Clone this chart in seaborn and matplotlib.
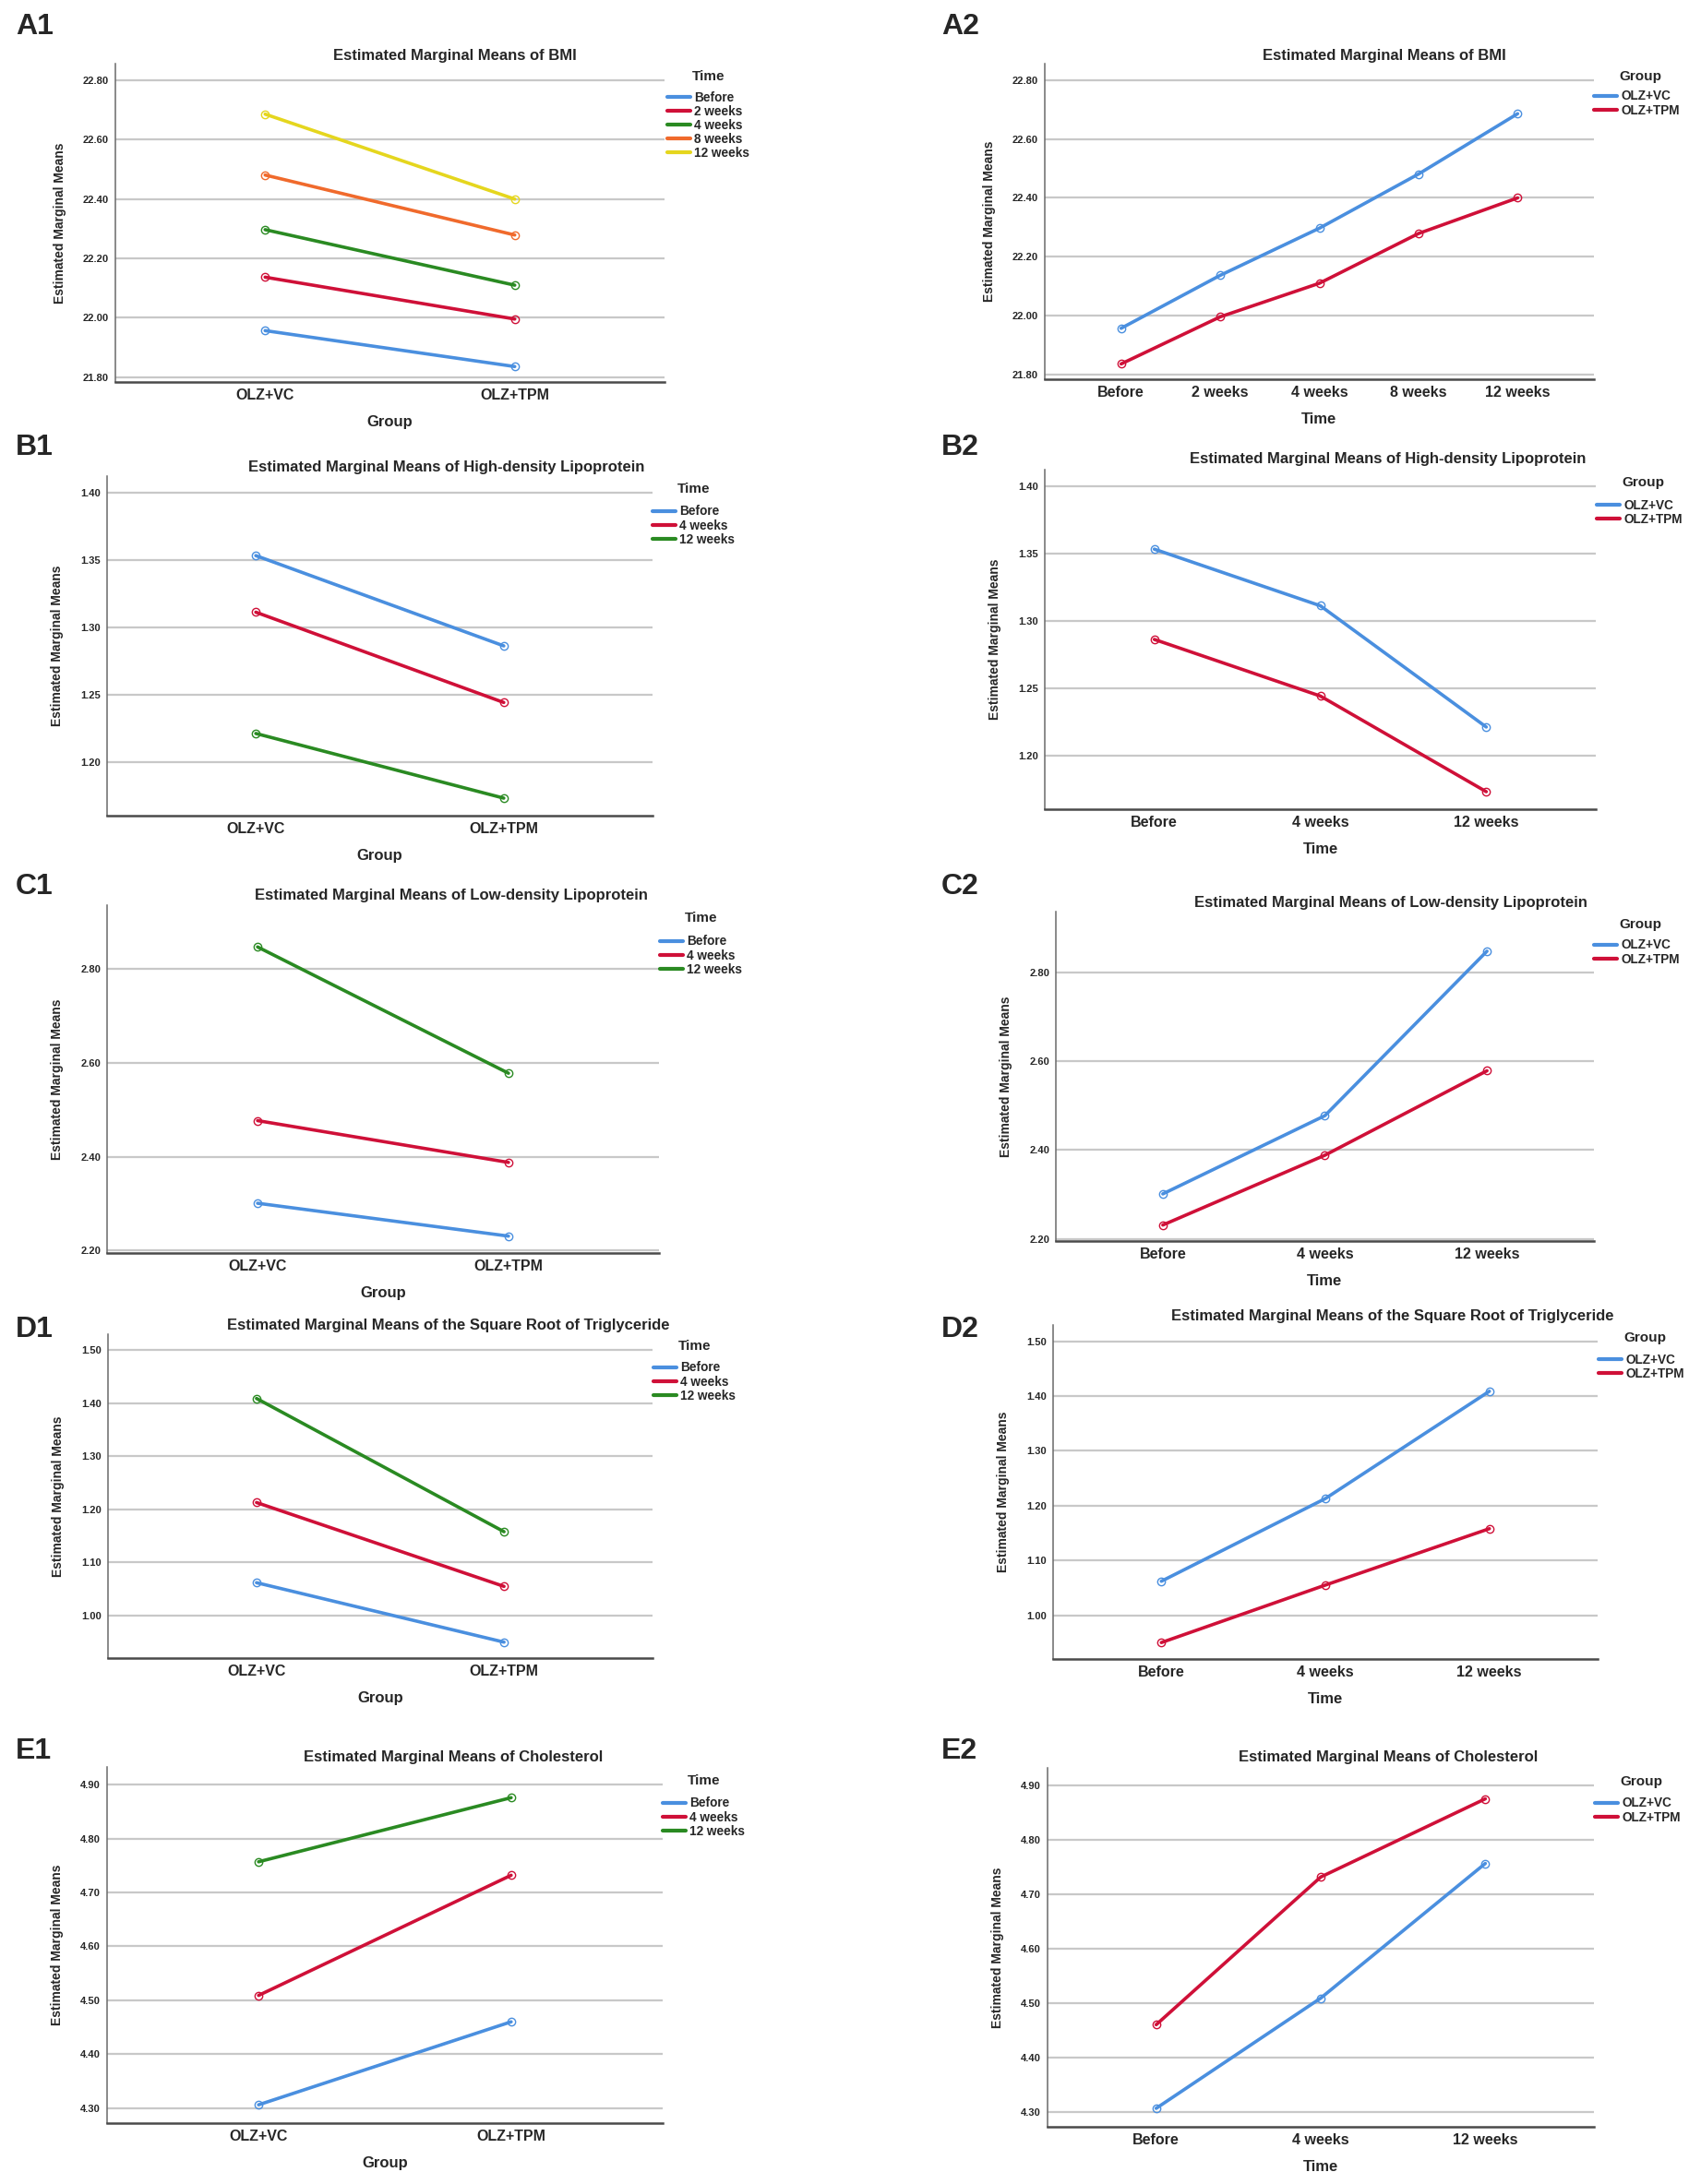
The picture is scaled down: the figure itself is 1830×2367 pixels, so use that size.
import matplotlib
matplotlib.use('Agg')
import matplotlib.pyplot as plt
from matplotlib.lines import Line2D
import pandas as pd
import seaborn as sns

# categories
groups = ['OLZ+VC', 'OLZ+TPM']
times5 = ['Before', '2 weeks', '4 weeks', '8 weeks', '12 weeks']
times3 = ['Before', '4 weeks', '12 weeks']

# estimated marginal means
bmi_vc = [21.957, 22.137, 22.297, 22.481, 22.686]
bmi_tpm = [21.836, 21.996, 22.110, 22.279, 22.400]
hdl_vc = [1.353, 1.311, 1.221]
hdl_tpm = [1.286, 1.244, 1.173]
ldl_vc = [2.301, 2.477, 2.847]
ldl_tpm = [2.231, 2.388, 2.578]
tg_vc = [1.062, 1.213, 1.409]
tg_tpm = [0.950, 1.055, 1.158]
chol_vc = [4.306, 4.509, 4.757]
chol_tpm = [4.460, 4.732, 4.876]

titles = ['Estimated Marginal Means of BMI',
          'Estimated Marginal Means of High-density Lipoprotein',
          'Estimated Marginal Means of Low-density Lipoprotein',
          'Estimated Marginal Means of the Square Root of Triglyceride',
          'Estimated Marginal Means of Cholesterol']

sns.set_theme(style='white')
plt.rcParams['font.family'] = ['Liberation Sans', 'DejaVu Sans']

W, H = 1831, 2367
fig = plt.figure(figsize=(W / 100, H / 100), dpi=100)

line_colors = ['#4a8fdf', '#cf1038', '#2a8a22', '#f06a2c', '#e5d61e']
grp_colors = ['#4a8fdf', '#cf1038']


def add_ax(l, r, t, b):
    return fig.add_axes([l / W, 1 - b / H, (r - l) / W, (b - t) / H])


def style_ax(ax, xlim, ylim, yticks, xlabel):
    ax.set_xlim(*xlim)
    ax.set_ylim(*ylim)
    ax.set_yticks(yticks)
    ax.set_yticklabels([f'{v:.2f}' for v in yticks], fontsize=8, fontweight='bold')
    for lab in ax.get_xticklabels():
        lab.set_fontsize(11.5)
        lab.set_fontweight('bold')
    ax.tick_params(axis='both', length=0)
    ax.tick_params(axis='y', pad=5)
    ax.tick_params(axis='x', pad=5)
    ax.grid(axis='y', color='#c8c8c8', lw=1.6)
    ax.grid(axis='x', visible=False)
    ax.set_axisbelow(True)
    for s in ['top', 'right']:
        ax.spines[s].set_visible(False)
    ax.spines['left'].set_color('#6a6a6a')
    ax.spines['left'].set_linewidth(1.1)
    ax.spines['bottom'].set_color('#4a4a4a')
    ax.spines['bottom'].set_linewidth(1.8)
    ax.set_xlabel(xlabel, fontsize=12, fontweight='bold', labelpad=10)
    ax.set_ylabel('Estimated Marginal Means', fontsize=10, fontweight='bold', labelpad=13)


def draw(ax, df, x, hue, order, hue_order, palette):
    sns.pointplot(data=df, x=x, y='value', hue=hue, order=order, hue_order=hue_order,
                  palette=palette, errorbar=None, markers='o', dodge=False,
                  markerfacecolor='none', markeredgewidth=1.0, markersize=6,
                  linewidth=2.6, legend=False, ax=ax)


def legend(labels, colors, title, hx, ty, ey):
    handles = [Line2D([], [], color=c, lw=3.0) for c in colors]
    fig.legend(handles, labels, loc='upper left',
               bbox_to_anchor=((hx - 3) / W, 1 - (ey - 5.5) / H),
               frameon=False, borderpad=0, borderaxespad=0, handlelength=1.85,
               handletextpad=0.3, labelspacing=0.085,
               prop={'size': 9.8, 'weight': 'bold'})
    fig.text((hx + 24) / W, 1 - ty / H, title, fontsize=11, fontweight='bold',
             ha='left', va='center')


rows = [
    (times5, bmi_vc, bmi_tpm, (21.784, 22.856), [21.8, 22.0, 22.2, 22.4, 22.6, 22.8]),
    (times3, hdl_vc, hdl_tpm, (1.160, 1.412), [1.20, 1.25, 1.30, 1.35, 1.40]),
    (times3, ldl_vc, ldl_tpm, (2.195, 2.936), [2.2, 2.4, 2.6, 2.8]),
    (times3, tg_vc, tg_tpm, (0.920, 1.530), [1.0, 1.1, 1.2, 1.3, 1.4, 1.5]),
    (times3, chol_vc, chol_tpm, (4.272, 4.933), [4.3, 4.4, 4.5, 4.6, 4.7, 4.8, 4.9]),
]

# layout in pixels: left axes box, right axes box, title centres, letter y, legend spots
left_boxes = [(125, 720, 69, 414), (116, 707, 516, 884), (116, 714, 981, 1358),
              (117, 707, 1446, 1797), (116, 718, 1915, 2301)]
right_boxes = [(1132, 1727, 69, 411), (1132, 1729, 509, 877), (1144, 1727, 988, 1345),
               (1141, 1731, 1436, 1798), (1135, 1727, 1916, 2305)]
left_titles = [(493, 61), (484, 506), (489, 971), (486, 1436), (491, 1905)]
right_titles = [(1500, 61), (1504, 498), (1507, 978), (1509, 1426), (1504, 1905)]
letter_y = [29, 485, 961, 1441, 1898]
left_leg = [(726, 83, 104), (710, 530, 553), (718, 995, 1019), (711, 1459, 1481), (721, 1930, 1953)]
right_leg = [(1730, 83, 103), (1733, 523, 546), (1730, 1002, 1023), (1735, 1450, 1472), (1731, 1931, 1953)]

for i, (times, vc, tpm, ylim, yticks) in enumerate(rows):
    df = pd.DataFrame({
        'Group': [groups[0]] * len(times) + [groups[1]] * len(times),
        'Time': times * 2,
        'value': vc + tpm,
    })
    letter = 'ABCDE'[i]

    # panel 1: x = Group, hue = Time
    ax1 = add_ax(*left_boxes[i])
    draw(ax1, df, 'Group', 'Time', groups, times, line_colors[:len(times)])
    style_ax(ax1, (-0.6, 1.6), ylim, yticks, 'Group')
    fig.text(left_titles[i][0] / W, 1 - left_titles[i][1] / H, titles[i],
             fontsize=12, fontweight='bold', ha='center', va='center')
    fig.text(17 / W, 1 - letter_y[i] / H, letter + '1', fontsize=23,
             fontweight='bold', ha='left', va='center')
    legend(times, line_colors[:len(times)], 'Time', *left_leg[i])

    # panel 2: x = Time, hue = Group
    ax2 = add_ax(*right_boxes[i])
    draw(ax2, df, 'Time', 'Group', times, groups, grp_colors)
    n = len(times)
    pad = 0.77 if n == 5 else 0.66
    style_ax(ax2, (-pad, n - 1 + pad), ylim, yticks, 'Time')
    fig.text(right_titles[i][0] / W, 1 - right_titles[i][1] / H, titles[i],
             fontsize=12, fontweight='bold', ha='center', va='center')
    fig.text(1020 / W, 1 - letter_y[i] / H, letter + '2', fontsize=23,
             fontweight='bold', ha='left', va='center')
    legend(groups, grp_colors, 'Group', *right_leg[i])

fig.savefig('out.png', dpi=100, facecolor='white')
